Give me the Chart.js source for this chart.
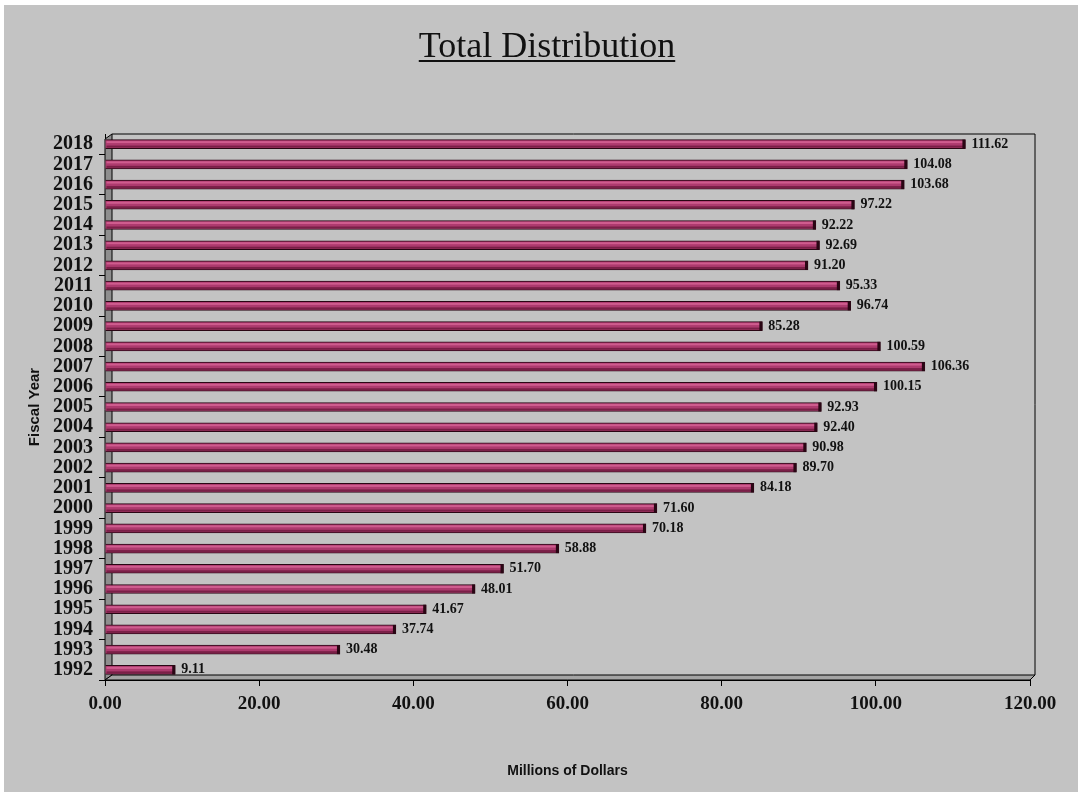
<!DOCTYPE html>
<html>
<head>
<meta charset="utf-8">
<script src="https://cdn.jsdelivr.net/npm/chart.js@4.4.1/dist/chart.umd.min.js"></script>
<style>
  html,body{margin:0;padding:0;background:#fff;}
  #wrap{position:absolute;left:4px;top:5px;width:1074px;height:787px;background:#c3c3c3;}
  canvas{display:block;}
</style>
</head>
<body>
<div id="wrap"><canvas id="c" width="1074" height="787"></canvas></div>
<script>
const years = ["1992","1993","1994","1995","1996","1997","1998","1999","2000","2001","2002","2003","2004","2005","2006","2007","2008","2009","2010","2011","2012","2013","2014","2015","2016","2017","2018"];
const distribution = [9.11,30.48,37.74,41.67,48.01,51.70,58.88,70.18,71.60,84.18,89.70,90.98,92.40,92.93,100.15,106.36,100.59,85.28,96.74,95.33,91.20,92.69,92.22,97.22,103.68,104.08,111.62];
const xMin = 0, xMax = 120, xStep = 20;
const titleText = "Total Distribution";
const xTitle = "Millions of Dollars";
const yTitle = "Fiscal Year";

const serif = "'Liberation Serif','Times New Roman',serif";
const sans = "'Liberation Sans',Arial,sans-serif";

// fake 3d box: left wall, floor, back frame
const boxPlugin = {
  id:'box3d',
  beforeDatasetsDraw(chart){
    const {ctx, chartArea:a} = chart;
    const dx = 7, dy = 5;
    ctx.save();
    ctx.lineWidth = 1;
    ctx.strokeStyle = '#000';
    ctx.fillStyle = '#8e8e8e';
    ctx.beginPath();
    ctx.moveTo(a.left, a.top + dy);
    ctx.lineTo(a.left + dx, a.top);
    ctx.lineTo(a.left + dx, a.bottom - dy);
    ctx.lineTo(a.left, a.bottom);
    ctx.closePath();
    ctx.fill(); ctx.stroke();
    ctx.fillStyle = '#a4a4a4';
    ctx.beginPath();
    ctx.moveTo(a.left, a.bottom);
    ctx.lineTo(a.left + dx, a.bottom - dy);
    ctx.lineTo(a.right + 5, a.bottom - dy);
    ctx.lineTo(a.right, a.bottom);
    ctx.closePath();
    ctx.fill(); ctx.stroke();
    ctx.beginPath();
    ctx.moveTo(a.left + dx, a.top);
    ctx.lineTo(a.right + 5, a.top);
    ctx.lineTo(a.right + 5, a.bottom - dy);
    ctx.stroke();
    ctx.restore();
  }
};

// cylinder shading + value labels
const labelPlugin = {
  id:'barLabels',
  afterDatasetsDraw(chart){
    const {ctx} = chart;
    const meta = chart.getDatasetMeta(0);
    ctx.save();
    meta.data.forEach(bar => {
      const x0 = bar.base + 1, x1 = bar.x - 1, h = bar.height;
      ctx.fillStyle = 'rgba(235,120,170,0.55)';
      ctx.fillRect(x0, bar.y - h/2 + 1.5, x1 - x0, 2);
      ctx.fillStyle = 'rgba(60,0,25,0.45)';
      ctx.fillRect(x0, bar.y + h/2 - 3, x1 - x0, 2);
      ctx.fillStyle = '#2a0614';
      ctx.fillRect(bar.x - 3, bar.y - h/2, 3, h);
    });
    ctx.font = "bold 14px " + serif;
    ctx.fillStyle = '#111';
    ctx.textAlign = 'left';
    ctx.textBaseline = 'middle';
    meta.data.forEach((bar, i) => {
      ctx.fillText(distribution[i].toFixed(2), bar.x + 6, bar.y);
    });
    ctx.restore();
  }
};

const titlePlugin = {
  id:'underlinedTitle',
  afterDraw(chart){
    const {ctx} = chart;
    ctx.save();
    ctx.font = "36px " + serif;
    ctx.fillStyle = '#111';
    ctx.textAlign = 'center';
    ctx.textBaseline = 'alphabetic';
    const cx = 543, base = 52;
    ctx.fillText(titleText, cx, base);
    const w = ctx.measureText(titleText).width;
    ctx.fillRect(cx - w/2, base + 3, w, 2);
    ctx.restore();
  }
};

new Chart(document.getElementById('c'), {
  type:'bar',
  data:{
    labels:years,
    datasets:[{
      data:distribution,
      backgroundColor:'#ad3a6e',
      borderColor:'#2a0614',
      borderWidth:1,
      barThickness:9
    }]
  },
  options:{
    indexAxis:'y',
    responsive:false,
    animation:false,
    layout:{padding:{top:129,right:48,left:0,bottom:0}},
    plugins:{legend:{display:false},tooltip:{enabled:false}},
    scales:{
      x:{
        min:xMin, max:xMax,
        afterFit(s){ s.height = 112; },
        ticks:{stepSize:xStep, color:'#111', padding:7,
          font:{family:serif, size:19, weight:'bold'},
          callback:v => v.toFixed(2)},
        grid:{drawOnChartArea:false, tickLength:6, color:'#000'},
        border:{color:'#000', width:1},
        title:{display:true, text:xTitle, color:'#111',
          font:{family:sans, size:14, weight:'bold'},
          padding:{top:0,bottom:12}}
      },
      y:{
        reverse:true,
        afterFit(s){ s.width = 101; },
        ticks:{color:'#111', padding:6, autoSkip:false,
          font:{family:serif, size:20, weight:'bold'}},
        grid:{drawOnChartArea:false, offset:true, tickLength:6,
          color:c => (c.index % 2 === 0 ? '#000' : 'rgba(0,0,0,0)')},
        border:{color:'#000', width:1},
        title:{display:true, text:yTitle, color:'#111',
          font:{family:sans, size:15, weight:'bold'},
          padding:{top:22,bottom:0}}
      }
    }
  },
  plugins:[boxPlugin, labelPlugin, titlePlugin]
});
</script>
</body>
</html>
